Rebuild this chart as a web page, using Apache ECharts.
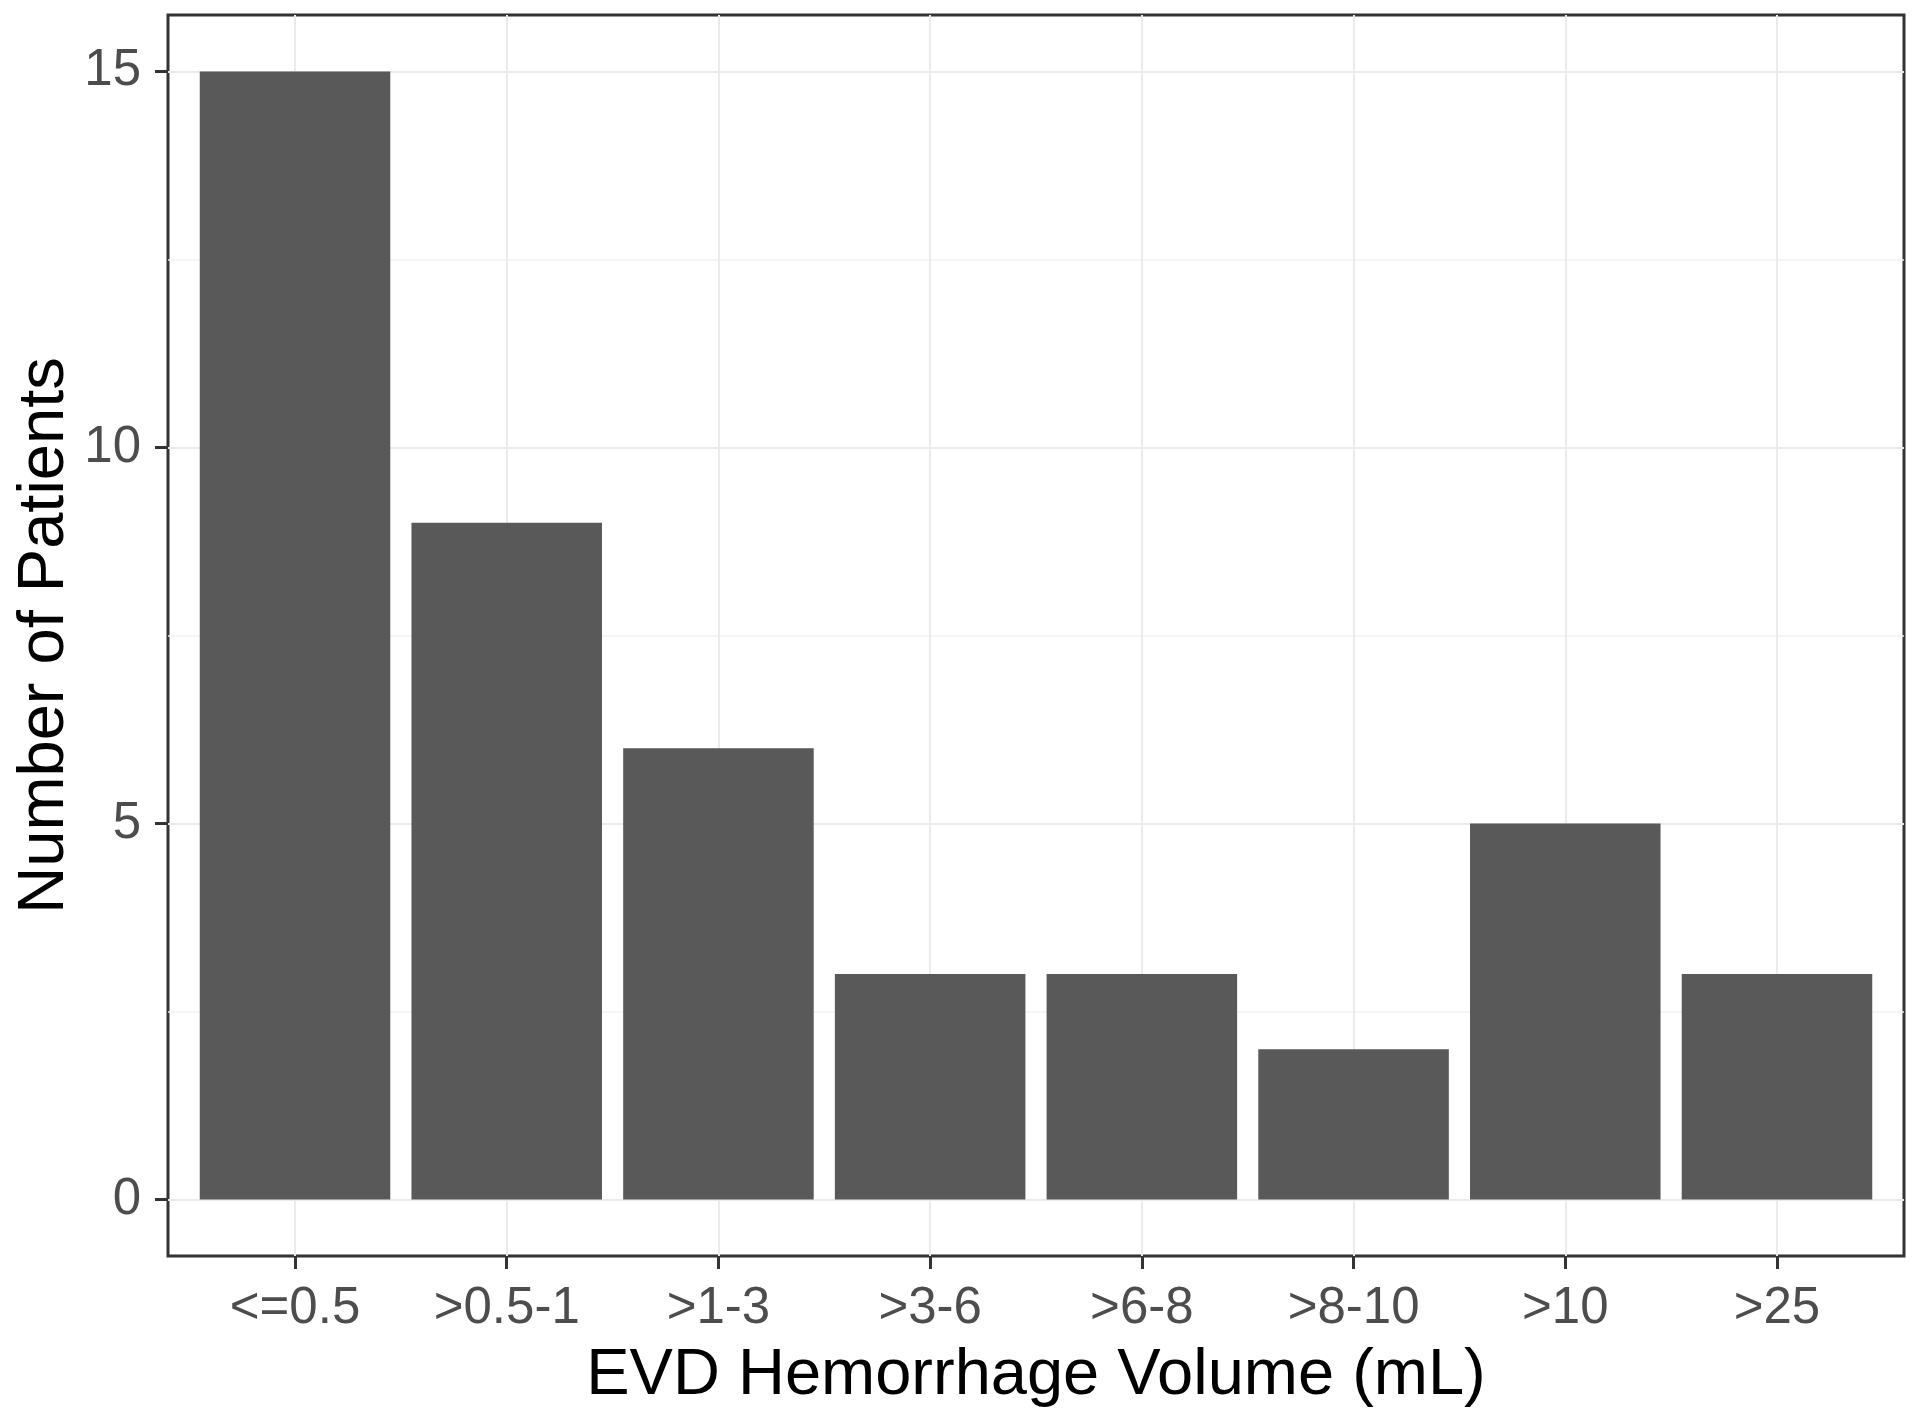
<!DOCTYPE html>
<html>
<head>
<meta charset="utf-8">
<script src="https://cdn.jsdelivr.net/npm/echarts@6/dist/echarts.min.js"></script>
<style>
html,body{margin:0;padding:0;background:#fff;}
#chart{width:1920px;height:1419px;}
</style>
</head>
<body>
<div id="chart"></div>
<script>
const categories = ['<=0.5', '>0.5-1', '>1-3', '>3-6', '>6-8', '>8-10', '>10', '>25'];
const patientCounts = [15, 9, 6, 3, 3, 2, 5, 3];
const yTickValues = [0, 5, 10, 15];
const yMinorValues = [2.5, 7.5, 12.5];
const xTitle = 'EVD Hemorrhage Volume (mL)';
const yTitle = 'Number of Patients';

const positions = categories.map((c, i) => i + 1);
const barData = positions.map((p, i) => [p, patientCounts[i]]);

const FONT = '"Liberation Sans", Arial, sans-serif';
const gridMajor = { color: '#ebebeb', width: 2, type: 'solid' };
const gridMinor = { color: '#f2f2f2', width: 1.5, type: 'solid' };

const chart = echarts.init(document.getElementById('chart'), null, { renderer: 'canvas' });
chart.setOption({
  animation: false,
  backgroundColor: '#ffffff',
  textStyle: { fontFamily: FONT },
  grid: {
    left: 168, top: 15, width: 1736, height: 1241,
    show: true, borderColor: '#333333', borderWidth: 3, backgroundColor: 'transparent',
    containLabel: false
  },
  xAxis: {
    type: 'value',
    position: 'bottom',
    min: positions[0] - 0.6,
    max: positions[positions.length - 1] + 0.6,
    axisLine: { show: false, onZero: false },
    splitLine: { show: false },
    axisTick: { show: true, inside: false, customValues: positions, length: 13, lineStyle: { color: '#333333', width: 3 } },
    axisLabel: {
      customValues: positions,
      formatter: v => categories[Math.round(v) - 1] || '',
      fontSize: 51, color: '#4d4d4d', margin: 27, fontFamily: FONT
    },
    name: xTitle,
    nameLocation: 'middle',
    nameGap: 88,
    nameMoveOverlap: false,
    nameTextStyle: { fontSize: 65, color: '#000000', fontFamily: FONT }
  },
  yAxis: {
    type: 'value',
    position: 'left',
    min: -0.75,
    max: 15.75,
    axisLine: { show: false, onZero: false },
    splitLine: { show: false },
    axisTick: { show: true, inside: false, customValues: yTickValues, length: 13, lineStyle: { color: '#333333', width: 3 } },
    axisLabel: { customValues: yTickValues, fontSize: 51, color: '#4d4d4d', margin: 27, fontFamily: FONT },
    name: yTitle,
    nameLocation: 'middle',
    nameRotate: 90,
    nameGap: 90,
    nameMoveOverlap: false,
    nameTextStyle: { fontSize: 65, color: '#000000', fontFamily: FONT }
  },
  series: [
    {
      type: 'line',
      data: [],
      z: 1,
      silent: true,
      markLine: {
        silent: true,
        symbol: 'none',
        label: { show: false },
        z: 1,
        data: [
          ...yMinorValues.map(v => ({ yAxis: v, lineStyle: gridMinor })),
          ...yTickValues.map(v => ({ yAxis: v, lineStyle: gridMajor })),
          ...positions.map(v => ({ xAxis: v, lineStyle: gridMajor }))
        ]
      }
    },
    {
      type: 'bar',
      data: barData,
      barWidth: '90%',
      z: 3,
      itemStyle: { color: '#595959' }
    }
  ]
});
</script>
</body>
</html>
